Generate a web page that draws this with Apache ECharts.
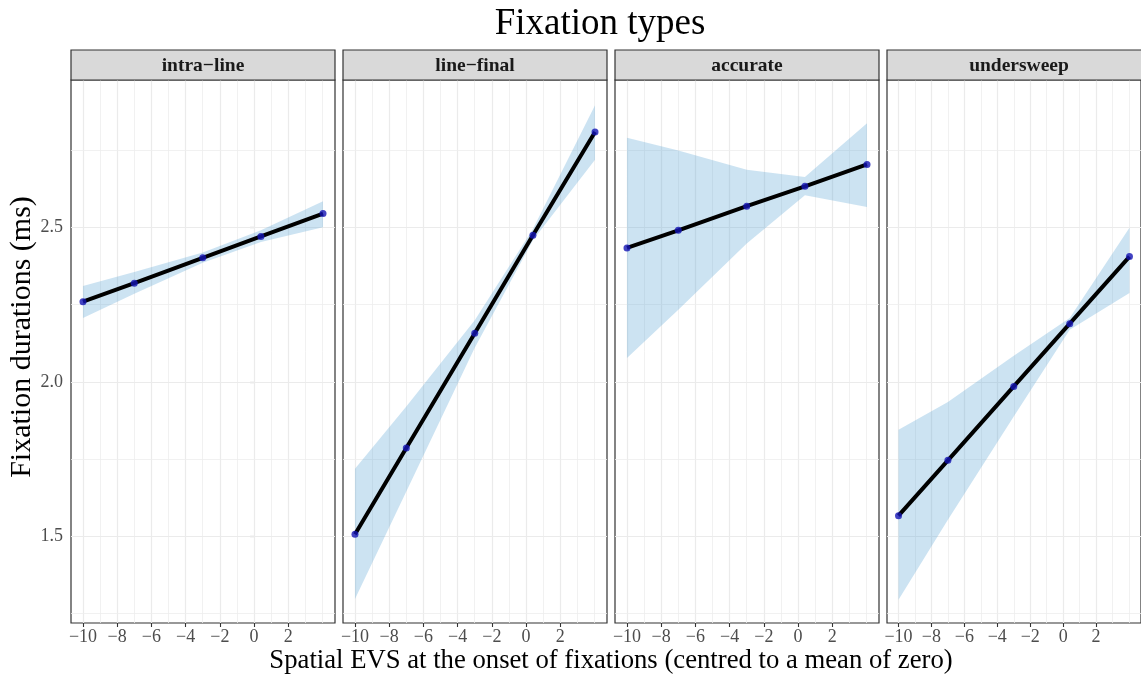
<!DOCTYPE html>
<html>
<head>
<meta charset="utf-8">
<script src="https://cdn.jsdelivr.net/npm/echarts@6/dist/echarts.min.js"></script>
<style>html,body{margin:0;padding:0;background:#fff}#c{width:1141px;height:675px}</style>
</head>
<body>
<div id="c"></div>
<script>
// ---- data ----
const panelNames = ['intra\u2212line', 'line\u2212final', 'accurate', 'undersweep'];
const xs = [-10, -7, -3, 0.4, 4.03];
const fitIntra = [2.259, 2.319, 2.401, 2.470, 2.544];
const lowIntra = [2.206, 2.285, 2.385, 2.452, 2.500];
const upIntra  = [2.310, 2.355, 2.418, 2.490, 2.584];
const fitFinal = [1.507, 1.786, 2.157, 2.474, 2.808];
const lowFinal = [1.298, 1.645, 2.110, 2.458, 2.718];
const upFinal  = [1.719, 1.920, 2.199, 2.494, 2.894];
const fitAcc = [2.433, 2.490, 2.568, 2.632, 2.703];
const lowAcc = [2.077, 2.233, 2.447, 2.603, 2.565];
const upAcc  = [2.789, 2.748, 2.686, 2.662, 2.836];
const fitUnder = [1.567, 1.746, 1.985, 2.188, 2.405];
const lowUnder = [1.295, 1.554, 1.888, 2.168, 2.287];
const upUnder  = [1.845, 1.935, 2.084, 2.206, 2.498];
const xTickLabels = [-10, -8, -6, -4, -2, 0, 2];
const yTickLabels = [1.5, 2.0, 2.5];
const xMinorGrid = [-9, -7, -5, -3, -1, 1, 3, 4];
const yMinorGrid = [1.25, 1.75, 2.25, 2.75];

const fits = [fitIntra, fitFinal, fitAcc, fitUnder];
const lows = [lowIntra, lowFinal, lowAcc, lowUnder];
const ups = [upIntra, upFinal, upAcc, upUnder];

// ---- layout ----
const X_MIN = -10.7, X_MAX = 4.73, Y_MIN = 1.22, Y_MAX = 2.976;
const lefts = [71, 343, 615, 887];
const PW = 264, PTOP = 80, PH = 543, STRIP_TOP = 50, STRIP_H = 30;
const SERIF = "'Liberation Serif', 'DejaVu Serif', serif";
const minus = v => String(v).replace('-', '\u2212');
const RIBBON = 'rgba(100,170,215,0.33)';

const grids = [], xAxes = [], yAxes = [], series = [], graphics = [];
panelNames.forEach((name, i) => {
  grids.push({left: lefts[i], top: PTOP, width: PW, height: PH, show: true,
    borderColor: '#333333', borderWidth: 1.2, backgroundColor: '#ffffff', containLabel: false});
  xAxes.push({type: 'value', gridIndex: i, min: X_MIN, max: X_MAX,
    axisLine: {show: false}, splitLine: {show: false},
    axisTick: {show: true, length: 4, customValues: xTickLabels, lineStyle: {color: '#333333', width: 1.1}},
    axisLabel: {show: true, customValues: xTickLabels, formatter: minus, color: '#4D4D4D',
      fontFamily: SERIF, fontSize: 18, margin: 5}});
  yAxes.push({type: 'value', gridIndex: i, min: Y_MIN, max: Y_MAX,
    axisLine: {show: false}, splitLine: {show: false},
    axisTick: {show: i === 0, length: 4, customValues: yTickLabels, lineStyle: {color: '#333333', width: 1.1}},
    axisLabel: {show: i === 0, customValues: yTickLabels, formatter: v => v.toFixed(1), color: '#4D4D4D',
      fontFamily: SERIF, fontSize: 18, margin: 8}});
  const major = {color: '#EBEBEB', width: 1.2, type: 'solid'};
  const minor = {color: '#EEEEEE', width: 0.8, type: 'solid'};
  const mlData = [
    ...xTickLabels.map(v => ({xAxis: v, lineStyle: major})),
    ...xMinorGrid.map(v => ({xAxis: v, lineStyle: minor})),
    ...yTickLabels.map(v => ({yAxis: v, lineStyle: major})),
    ...yMinorGrid.map(v => ({yAxis: v, lineStyle: minor}))
  ];
  series.push({type: 'custom', xAxisIndex: i, yAxisIndex: i, z: 6, silent: true, animation: false,
    data: xs.map((x, j) => [x, lows[i][j], ups[i][j]]),
    encode: {x: 0, y: [1, 2]},
    renderItem: (params, api) => {
      if (params.dataIndexInside !== 0) return null;
      const n = params.dataInsideLength;
      const pts = [];
      for (let k = 0; k < n; k++) pts.push(api.coord([api.value(0, k), api.value(2, k)]));
      for (let k = n - 1; k >= 0; k--) pts.push(api.coord([api.value(0, k), api.value(1, k)]));
      return {type: 'polygon', shape: {points: pts}, style: {fill: RIBBON, stroke: null}};
    },
    markLine: {silent: true, symbol: 'none', animation: false, z: 1, label: {show: false},
      lineStyle: major, data: mlData}});
  series.push({type: 'line', xAxisIndex: i, yAxisIndex: i, z: 7,
    data: xs.map((x, j) => [x, fits[i][j]]), symbol: 'none',
    lineStyle: {color: '#000000', width: 4}, silent: true, animation: false});
  series.push({type: 'scatter', xAxisIndex: i, yAxisIndex: i, z: 8,
    data: xs.map((x, j) => [x, fits[i][j]]), symbolSize: 7,
    itemStyle: {color: '#1414B4'}, silent: true, animation: false});
  // strip
  graphics.push({type: 'rect', shape: {x: lefts[i], y: STRIP_TOP, width: PW, height: STRIP_H},
    style: {fill: '#D9D9D9', stroke: '#333333', lineWidth: 1.2}, z: 10});
  graphics.push({type: 'text', x: lefts[i] + PW / 2, y: STRIP_TOP + STRIP_H / 2 + 1,
    style: {text: name, font: 'bold 19.5px ' + SERIF, fill: '#1A1A1A', align: 'center', verticalAlign: 'middle'}, z: 11});
});

graphics.push({type: 'text', x: 600, y: 24,
  style: {text: 'Fixation types', font: '37px ' + SERIF, fill: '#000', align: 'center', verticalAlign: 'middle'}});
graphics.push({type: 'text', x: 22, y: 337, rotation: Math.PI / 2,
  style: {text: 'Fixation durations (ms)', font: '30px ' + SERIF, fill: '#000', align: 'center', verticalAlign: 'middle'}});
graphics.push({type: 'text', x: 611, y: 661,
  style: {text: 'Spatial EVS at the onset of fixations (centred to a mean of zero)', font: '26.7px ' + SERIF,
    fill: '#000', align: 'center', verticalAlign: 'middle'}});

const chart = echarts.init(document.getElementById('c'), null, {renderer: 'canvas'});
chart.setOption({
  animation: false,
  backgroundColor: '#ffffff',
  grid: grids, xAxis: xAxes, yAxis: yAxes, series: series,
  graphic: {elements: graphics}
});
</script>
</body>
</html>
